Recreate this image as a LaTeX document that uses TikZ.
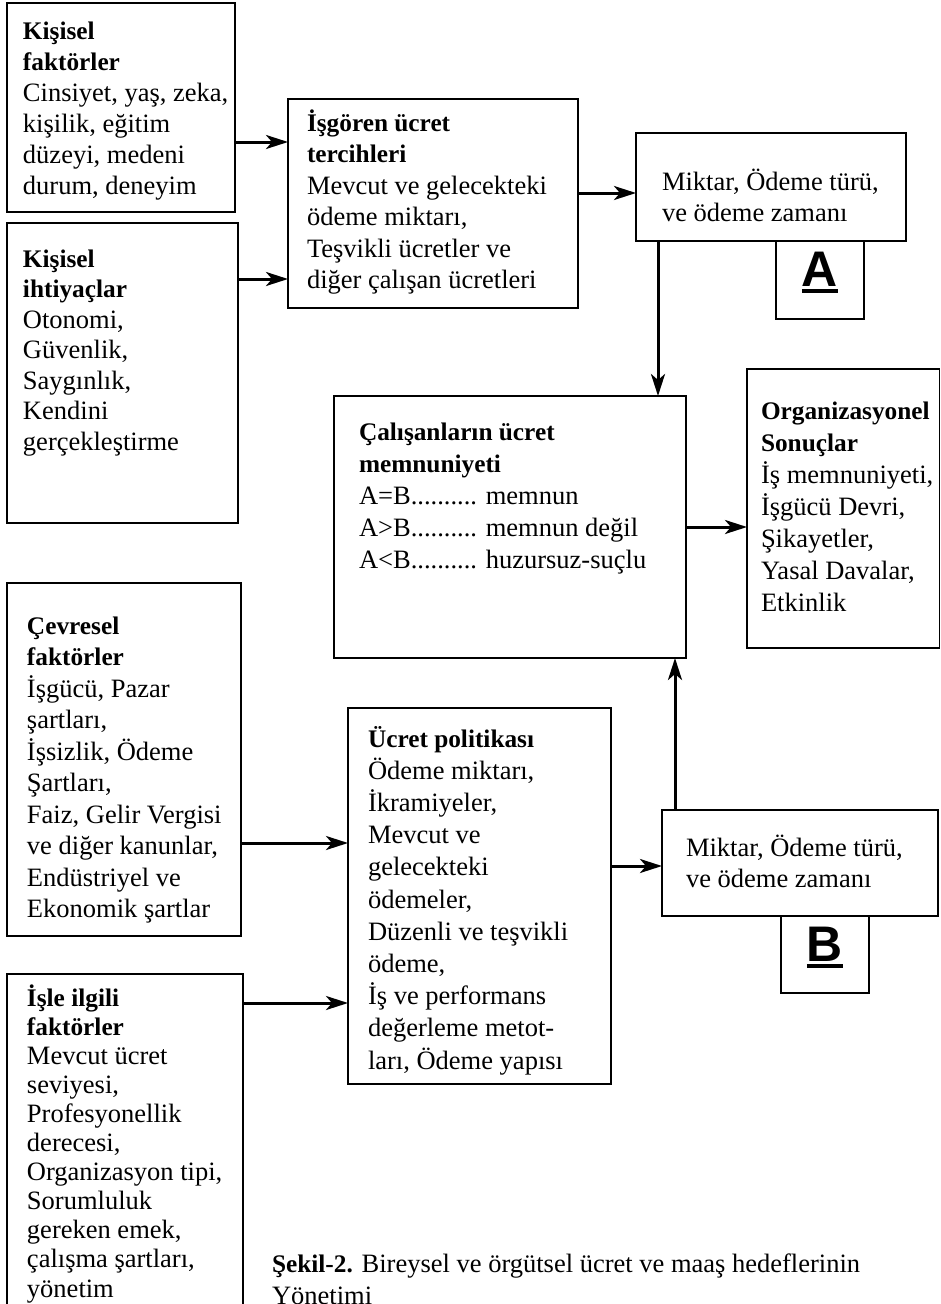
\documentclass[tikz,border=0pt]{standalone}
\usepackage{fontspec}
\setmainfont{Liberation Serif}[BoldFeatures={Scale=0.955}]
\newfontfamily\letterfont{Liberation Sans}
\usetikzlibrary{arrows.meta}

% left-aligned block of lines; the node baseline is the first line's baseline
\newcommand\lines[1]{\vtop{\lineskiplimit=-\maxdimen\lineskip=0pt\let\\\cr\halign{##\hfil\cr#1\crcr}}}
% letter with a heavy bar beneath it
\newsavebox\ulbox
\newcommand\ulletter[1]{\sbox\ulbox{#1}\rlap{\usebox\ulbox}\raisebox{-7pt}{\rule{\wd\ulbox}{4pt}}}

\begin{document}
\begin{tikzpicture}[x=1pt,y=-1pt,
  frame/.style 2 args={draw, line width=1.3pt, inner sep=0pt, outer sep=0pt,
    anchor=north west, minimum width=#1pt, minimum height=#2pt},
  txt/.style={inner sep=0pt, outer sep=0pt, anchor=base west,
    font=\fontsize{26.5}{#1}\selectfont},
  txt/.default=31.5,
  letter/.style={inner sep=0pt, outer sep=0pt, anchor=base,
    font=\letterfont\bfseries\fontsize{50}{50}\selectfont},
  conn/.style={line width=3pt, -{Stealth[length=22pt,width=14pt,inset=6pt]}}]

\clip (0,0) rectangle (941,1304);
\fill[white] (0,0) rectangle (941,1304);

% boxes
\node[frame={228}{209}] (kf) at (7,3) {};
\node[frame={231}{300}] (ki) at (7,223) {};
\node[frame={290}{209}] (it) at (288,99) {};
\node[frame={270}{108}] (ma) at (636,133) {};
\node[frame={88}{78}]   (la) at (776,241) {};
\node[frame={352}{262}] (cm) at (334,396) {};
\node[frame={192.5}{279}] (os) at (747,369) {};
\node[frame={234}{353}] (cf) at (7,583) {};
\node[frame={263}{376}] (up) at (348,708) {};
\node[frame={276}{106}] (mb) at (662,810) {};
\node[frame={88}{77}]   (lb) at (781,916) {};
\node[frame={236}{360}] (if) at (7,974) {};

% box texts
\node[txt=31] (kft) at (23,39) {\lines{\textbf{Kişisel}\\\textbf{faktörler}\\Cinsiyet, yaş, zeka,\\kişilik, eğitim\\düzeyi, medeni\\durum, deneyim}};
\node[txt=30.5] (kit) at (23,267) {\lines{\textbf{Kişisel}\\\textbf{ihtiyaçlar}\\Otonomi,\\Güvenlik,\\Saygınlık,\\Kendini\\gerçekleştirme}};
\node[txt=31.5] (itt) at (307,131) {\lines{\textbf{İşgören ücret}\\\textbf{tercihleri}\\Mevcut ve gelecekteki\\ödeme miktarı,\\Teşvikli ücretler ve\\diğer çalışan ücretleri}};
\node[txt=31] (mat) at (662,190) {\lines{Miktar, Ödeme türü,\\ve ödeme zamanı}};
\node[letter] (lat) at (820,286) {\ulletter{A}};
\node[txt=32] (cmt) at (359,440) {\lines{\textbf{Çalışanların ücret}\\\textbf{memnuniyeti}\\A=B.......... memnun\\A>B.......... memnun değil\\A<B.......... huzursuz-suçlu}};
\node[txt=32] (ost) at (761,419) {\lines{\textbf{Organizasyonel}\\\textbf{Sonuçlar}\\İş memnuniyeti,\\İşgücü Devri,\\Şikayetler,\\Yasal Davalar,\\Etkinlik}};
\node[txt=31.5] (cft) at (27,634) {\lines{\textbf{Çevresel}\\\textbf{faktörler}\\İşgücü, Pazar\\şartları,\\İşsizlik, Ödeme\\Şartları,\\Faiz, Gelir Vergisi\\ve diğer kanunlar,\\Endüstriyel ve\\Ekonomik şartlar}};
\node[txt=32.2] (upt) at (368,747) {\lines{\textbf{Ücret politikası}\\Ödeme miktarı,\\İkramiyeler,\\Mevcut ve\\gelecekteki\\ödemeler,\\Düzenli ve teşvikli\\ödeme,\\İş ve performans\\değerleme metot-\\ları, Ödeme yapısı}};
\node[txt=31] (mbt) at (686,856) {\lines{Miktar, Ödeme türü,\\ve ödeme zamanı}};
\node[letter] (lbt) at (825,961) {\ulletter{B}};
\node[txt=29.1] (ift) at (27,1006) {\lines{\textbf{İşle ilgili}\\\textbf{faktörler}\\Mevcut ücret\\seviyesi,\\Profesyonellik\\derecesi,\\Organizasyon tipi,\\Sorumluluk\\gereken emek,\\çalışma şartları,\\yönetim}};

% caption
\node[txt=32] (cap) at (272,1272) {\lines{\textbf{Şekil-2.} Bireysel ve örgütsel ücret ve maaş hedeflerinin\\Yönetimi}};

% connectors
\draw[conn] (kf.east |- 0,142) -- (it.west |- 0,142);
\draw[conn] (ki.east |- 0,279) -- (it.west |- 0,279);
\draw[conn] (it.east |- 0,193) -- (ma.west |- 0,193);
\draw[conn] (ma.south -| 658,0) -- (cm.north -| 658,0);
\draw[conn] (cm.east |- 0,527) -- (os.west |- 0,527);
\draw[conn] (cf.east |- 0,843) -- (up.west |- 0,843);
\draw[conn] (if.east |- 0,1003) -- (up.west |- 0,1003);
\draw[conn] (up.east |- 0,866) -- (mb.west |- 0,866);
\draw[conn] (mb.north -| 675,0) -- (cm.south -| 675,0);
\end{tikzpicture}
\end{document}
